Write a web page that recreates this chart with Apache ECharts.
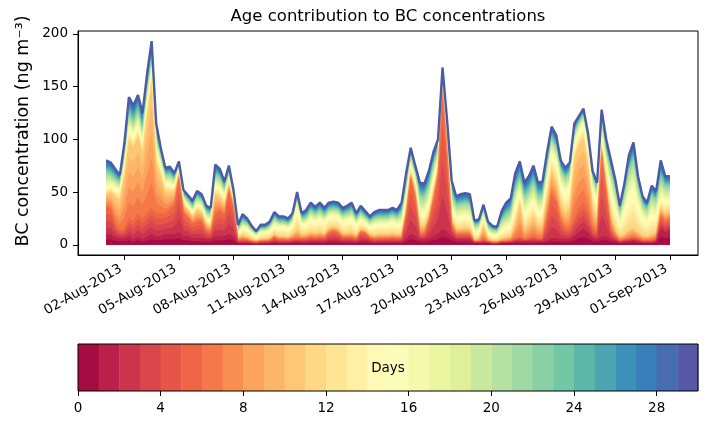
<!DOCTYPE html>
<html><head><meta charset="utf-8">
<script src="https://cdn.jsdelivr.net/npm/echarts@6/dist/echarts.min.js"></script>
<style>html,body{margin:0;padding:0;background:#fff}#c{width:707px;height:425px}</style>
</head><body><div id="c"></div>
<script>
// time axis: 6-hourly from 01-Aug-2013 00:00 UTC
const startUTC = Date.UTC(2013, 7, 1, 0, 0, 0);
const stepHours = 6;

// total BC (top of stack), ng m-3
const total = [80,78,72,66,96,140,132,142,125,162,
 193,115,92,73,74,68,79,52,47,42,
 51,48,37,35,76,72,60,75,52,19,
 29,25,18,13,19,19,22,31,27,27,
 25,30,50,30,33,40,36,40,35,40,
 41,40,35,37,40,30,37,32,27,31,
 33,33,33,35,33,40,68,92,75,59,
 58,70,88,100,168,118,61,46,48,49,
 48,23,24,38,22,18,17,32,40,44,
 68,79,59,65,75,59,60,88,112,104,
 80,73,78,115,122,129,106,70,59,128,
 100,81,62,37,58,85,97,65,46,40,
 56,51,80,65,65];

// cumulative BC up to age 2 days
const cum2 = [10,10,7,6,6,8,5,8,5,8,
 10,8,8,10,10,10,12,8,8,6,
 6,6,5,5,8,8,8,10,8,2,
 2,2,1.5,1,1.5,1.5,2,2.5,2,2,
 2,2.5,3,2.5,2.5,3,3,3,3,4,
 4,4,3,3,3,2.5,4,4,3,2.5,
 2.5,2.5,2.5,3,2.5,3,6,10,8,5,
 5,6,8,10,15,12,8,5,5,5,
 5,2,2,2,2,1,1,2,2,2,
 3,3,3,3,3,3,3,4,6,6,
 5,5,5,8,12,15,12,6,5,8,
 8,5,4,2,3,3,4,3,2,2,
 2,3,15,12,14];

// cumulative BC up to age 6 days
const cum6 = [36,34,20,14,15,25,22,30,25,30,
 35,30,30,30,33,38,62,30,25,20,
 22,22,13,12,29,32,28,50,35,4,
 5,4.5,3,2.5,3.5,3.5,4,7,5,5,
 4.5,5.5,6,5.5,6,7,6.5,7,6.5,11,
 13,11,7,7,7,5.5,12,11,7,5.5,
 6,6,6,6.5,6,6,28,63,45,10,
 10,22,42,65,140,85,18,10,10,10,
 10,3,3,5,3,2,2,3,3,4,
 6,8,5,6,8,6,6,25,48,40,
 22,15,15,25,35,40,30,15,12,85,
 50,15,8,4,5,6,7,6,4,4,
 4,6,27,22,24];

// cumulative BC up to age 11 days
const cum11 = [48,50,45,42,65,98,92,102,86,120,
 152,78,65,50,50,50,67,38,33,27,
 33,31,20,18,48,45,38,57,40,7,
 9,7.5,5.5,4,5.5,5.5,6.5,10,8,8,
 7.5,10,15,10,10,12,11,12,10.5,16,
 17,16,11,11,12,9,15,14,10,9,
 10,10,10,10.5,10,10,34,68,52,18,
 18,28,50,72,150,95,25,15,15,16,
 15,5,6,17,6,4,4,6,7,8,
 20,38,14,20,26,18,18,45,70,60,
 38,30,35,80,95,100,75,35,25,92,
 60,28,15,8,10,14,16,12,9,8,
 10,12,35,30,32];

// cumulative BC up to age 16 days
const cum16 = [55,57,54,52,74,110,104,114,97,134,
 165,90,75,58,58,56,71,42,37,31,
 38,36,25,23,57,54,46,62,44,11,
 16,15.5,11,8,12,12,13.5,19,17,17,
 15.5,20,36,19,20,25,22,25,22,27,
 28,27,22,23,25,19,24,21,17,19,
 20,20,20,22,20,20,44,75,60,30,
 30,40,62,80,157,103,35,26,27,28,
 27,12,13,26,12,9,9,14,17,19,
 38,50,30,36,42,32,33,62,88,80,
 58,50,55,95,108,115,90,52,42,104,
 75,52,35,20,32,48,55,38,26,22,
 30,28,45,42,43];

// cumulative BC up to age 22 days
const cum22 = [68,66,62,59,84,123,116,126,109,146,
 176,101,84,66,66,62,75,47,42,36,
 45,42,31,29,66,63,53,68,48,15,
 22,20,14.5,10.5,15,15,17.5,25,21.5,21.5,
 20,24,44,24,26,32,29,32,28,33,
 34,33,28,30,32,24,30,26,22,25,
 26,26,26,28,26,30,56,84,68,45,
 45,55,75,90,163,110,48,37,38,39,
 38,18,19,32,17,14,13,23,28,31,
 52,62,45,50,58,45,46,75,100,92,
 70,63,68,106,116,123,99,63,53,117,
 88,70,52,30,48,70,80,55,38,33,
 46,42,62,55,55];

const xTickDates = ['2013-08-02','2013-08-05','2013-08-08','2013-08-11','2013-08-14','2013-08-17',
 '2013-08-20','2013-08-23','2013-08-26','2013-08-29','2013-09-01'];
const yTicks = [0, 50, 100, 150, 200];
const ageDays = [0,1,2,3,4,5,6,7,8,9,10,11,12,13,14,15,16,17,18,19,20,21,22,23,24,25,26,27,28,29];
const colorbarTicks = [0, 4, 8, 12, 16, 20, 24, 28];
const monthNames = ['Jan','Feb','Mar','Apr','May','Jun','Jul','Aug','Sep','Oct','Nov','Dec'];

// Spectral colormap anchors
const spectral = ['#9e0142','#d53e4f','#f46d43','#fdae61','#fee08b','#ffffbf','#e6f598','#abdda4','#66c2a5','#3288bd','#5e4fa2'];
function hex2rgb(h){return [parseInt(h.slice(1,3),16),parseInt(h.slice(3,5),16),parseInt(h.slice(5,7),16)];}
function cmap(t){
  const n = spectral.length - 1; const p = Math.min(Math.max(t,0),1) * n;
  const i = Math.min(Math.floor(p), n - 1); const f = p - i;
  const a = hex2rgb(spectral[i]), b = hex2rgb(spectral[i+1]);
  const c = a.map((v,j)=>Math.round(v + (b[j]-v)*f));
  return 'rgb(' + c.join(',') + ')';
}
const colors = ageDays.map(k => cmap((k + 0.5) / ageDays.length));

const times = total.map((_, i) => startUTC + i * stepHours * 3600000);
const zeros = total.map(() => 0);
const groups = [
  {from:0, to:2, lo:zeros, hi:cum2},
  {from:2, to:6, lo:cum2, hi:cum6},
  {from:6, to:11, lo:cum6, hi:cum11},
  {from:11, to:16, lo:cum11, hi:cum16},
  {from:16, to:22, lo:cum16, hi:cum22},
  {from:22, to:30, lo:cum22, hi:total}
];
// top of layer k (cumulative up to and including age k)
function layerTop(k){
  const grp = groups.find(q => k >= q.from && k < q.to);
  const n = grp.to - grp.from;
  const frac = (k - grp.from + 1) / n;
  return times.map((t, i) => [t, grp.lo[i] + (grp.hi[i] - grp.lo[i]) * frac]);
}

const font = 'DejaVu Sans';
const series = [];
// paint oldest layer first, youngest last; each area fills down to zero
for (let k = ageDays.length - 1; k >= 0; k--) {
  series.push({
    type: 'line', name: 'Day ' + k, xAxisIndex: 0, yAxisIndex: 0,
    data: layerTop(k), showSymbol: false, symbol: 'none', silent: true,
    lineStyle: {width: 0.5, color: colors[k]},
    areaStyle: {color: colors[k], opacity: 1, origin: 'auto'}
  });
}
series.push({
  type: 'line', name: 'total', xAxisIndex: 0, yAxisIndex: 0,
  data: times.map((t, i) => [t, total[i]]), showSymbol: false, symbol: 'none', silent: true,
  lineStyle: {width: 2.4, color: '#4b5ba8'}, z: 3
});
series.push({
  type: 'custom', xAxisIndex: 1, yAxisIndex: 1, silent: true,
  data: ageDays.map(k => [k, 0.5]), encode: {x: 0, y: 1},
  renderItem: (params, api) => {
    const k = api.value(0);
    const p0 = api.coord([k, 1]); const p1 = api.coord([k + 1, 0]);
    return {type: 'rect', shape: {x: p0[0], y: p0[1], width: p1[0] - p0[0] + 0.4, height: p1[1] - p0[1]},
      style: {fill: colors[k]}};
  }
});

function fmtDate(v){
  const d = new Date(v);
  const dd = String(d.getUTCDate()).padStart(2, '0');
  return dd + '-' + monthNames[d.getUTCMonth()] + '-' + d.getUTCFullYear();
}
const xTicks = xTickDates.map(s => { const p = s.split('-').map(Number); return Date.UTC(p[0], p[1]-1, p[2]); });
const span = times[times.length-1] - times[0];

const chart = echarts.init(document.getElementById('c'), null, {renderer: 'canvas'});
chart.setOption({
  animation: false,
  backgroundColor: '#fff',
  textStyle: {fontFamily: font},
  grid: [
    {left: 78, right: 9, top: 31, bottom: 170, show: true, borderColor: '#000', borderWidth: 1, backgroundColor: 'transparent'},
    {left: 78, right: 9, top: 344, height: 47}
  ],
  xAxis: [
    {type: 'value', gridIndex: 0, min: times[0] - 0.05 * span, max: times[times.length-1] + 0.05 * span,
     axisLine: {show: true, onZero: false, lineStyle: {color: '#000', width: 1}},
     axisTick: {show: true, customValues: xTicks, length: 5, lineStyle: {color: '#000'}},
     axisLabel: {customValues: xTicks, formatter: fmtDate, rotate: 30, color: '#000', fontSize: 13.5, fontFamily: font, margin: 11, padding: [0, 4, 0, 0]},
     splitLine: {show: false}},
    {type: 'value', gridIndex: 1, min: 0, max: 30,
     axisLine: {show: false},
     axisTick: {show: true, customValues: colorbarTicks, length: 5, lineStyle: {color: '#000'}},
     axisLabel: {customValues: colorbarTicks, color: '#000', fontSize: 13.5, fontFamily: font, margin: 10},
     splitLine: {show: false}}
  ],
  yAxis: [
    {type: 'value', gridIndex: 0, min: -9.65, max: 202.65,
     axisLine: {show: true, lineStyle: {color: '#000', width: 1}},
     axisTick: {show: true, customValues: yTicks, length: 5, lineStyle: {color: '#000'}},
     axisLabel: {customValues: yTicks, color: '#000', fontSize: 13.5, fontFamily: font, margin: 10},
     splitLine: {show: false}},
    {type: 'value', gridIndex: 1, min: 0, max: 1, show: false}
  ],
  graphic: [
    {type: 'text', x: 388, y: 17, z: 100, style: {text: 'Age contribution to BC concentrations', font: '16.5px "DejaVu Sans"', fill: '#000', align: 'center', verticalAlign: 'middle', textAlign: 'center', textVerticalAlign: 'middle'}},
    {type: 'text', x: 23, y: 131, rotation: Math.PI / 2, z: 100, style: {text: 'BC concentration (ng m\u207B\u00B3)', font: '17.5px "DejaVu Sans"', fill: '#000', align: 'center', verticalAlign: 'middle', textAlign: 'center', textVerticalAlign: 'middle'}},
    {type: 'text', x: 388, y: 368, z: 100, style: {text: 'Days', font: '13.5px "DejaVu Sans"', fill: '#000', align: 'center', verticalAlign: 'middle', textAlign: 'center', textVerticalAlign: 'middle'}},
    {type: 'rect', z: 100, shape: {x: 78, y: 344, width: 620, height: 47}, style: {fill: 'none', stroke: '#000', lineWidth: 1}}
  ],
  series: series
});
</script></body></html>
